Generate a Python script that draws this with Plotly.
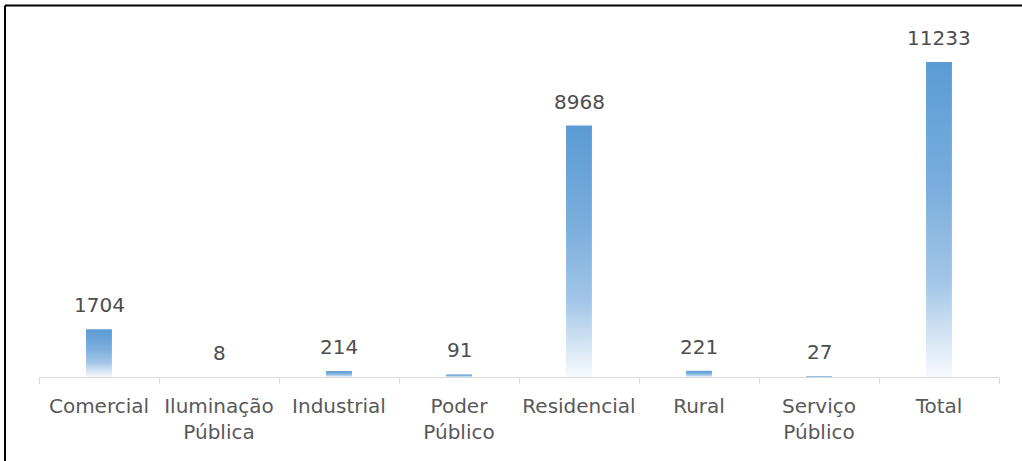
import plotly.graph_objects as go

# Número de ligações por classe de consumo
categories = ["Comercial", "Iluminação<br>Pública", "Industrial", "Poder<br>Público",
              "Residencial", "Rural", "Serviço<br>Público", "Total"]
values = [1704, 8, 214, 91, 8968, 221, 27, 11233]

W, H = 1022, 461
BAR_HALF = 0.108
FONT = "DejaVu Sans"
TEXT_COLOR = "#595959"

# vertical gradient from white at the base to blue at the top of each column
gradient = [[0.0, "#f7fafd"], [0.12, "#d6e6f5"], [0.3, "#a3c6e8"],
            [0.6, "#7aaedd"], [1.0, "#5b9bd5"]]

fig = go.Figure()
for i, v in enumerate(values):
    xs = [i - BAR_HALF, i + BAR_HALF, i + BAR_HALF, i - BAR_HALF, i - BAR_HALF]
    ys = [0, 0, v, v, 0]
    fig.add_trace(go.Scatter(
        x=xs, y=ys, mode="lines", fill="toself",
        line=dict(width=0, color="rgba(0,0,0,0)"),
        fillgradient=dict(type="vertical", colorscale=gradient),
        hoverinfo="skip", showlegend=False,
    ))
    fig.add_annotation(
        x=i, y=v, text=str(v), showarrow=False, yanchor="bottom", yshift=10,
        font=dict(family=FONT, size=20, color="#4d4d4d"),
    )

# frame lines along the left and top edges
fig.add_shape(type="line", xref="paper", yref="paper", x0=5 / W, x1=5 / W,
              y0=0, y1=1 - 5.5 / H, line=dict(color="black", width=2))
fig.add_shape(type="line", xref="paper", yref="paper", x0=5 / W, x1=1,
              y0=1 - 5.5 / H, y1=1 - 5.5 / H, line=dict(color="black", width=2))

fig.update_layout(
    width=W, height=H,
    margin=dict(l=0, r=0, t=0, b=0, autoexpand=False),
    paper_bgcolor="white", plot_bgcolor="white",
    xaxis=dict(
        domain=[39 / W, 999 / W], range=[-0.5, 7.5],
        tickvals=list(range(len(categories))), ticktext=categories,
        ticks="", showgrid=False, zeroline=False,
        showline=True, linecolor="#d9d9d9", linewidth=1,
        ticklabelstandoff=11,
        tickfont=dict(family=FONT, size=20, color=TEXT_COLOR),
        minor=dict(tickvals=[k - 0.5 for k in range(len(categories) + 1)],
                   ticks="outside", ticklen=6, tickcolor="#d9d9d9", showgrid=False),
        automargin=False, fixedrange=True,
    ),
    yaxis=dict(
        domain=[84 / H, 434.5 / H], range=[0, 12500],
        visible=False, showgrid=False, zeroline=False, fixedrange=True,
    ),
)

fig.write_html("out.html")
